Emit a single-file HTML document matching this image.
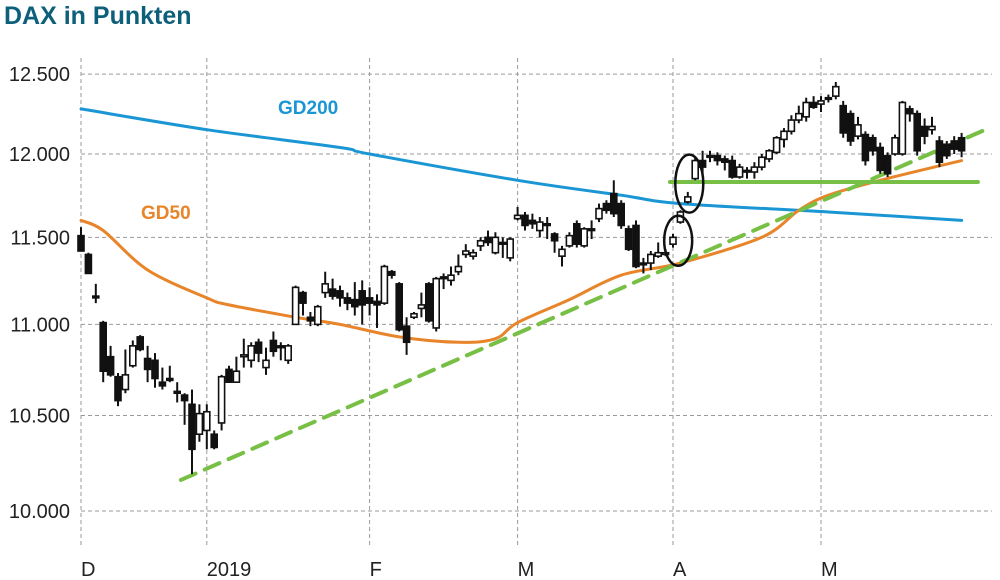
<!DOCTYPE html>
<html><head><meta charset="utf-8"><style>
html,body{margin:0;padding:0;background:#fff;}
svg{display:block;font-family:"Liberation Sans",sans-serif;}
</style></head><body>
<svg id="chart" width="1000" height="580" viewBox="0 0 1000 580">
<text x="4" y="24" font-size="25" font-weight="bold" fill="#0d5f7a">DAX in Punkten</text>
<g id="grid"></g>
<g id="yaxis"></g>
<g id="xaxis"></g>
<g id="lines"></g>
<g id="candles"></g>
<g id="annot"></g>
<text x="278" y="114" font-size="19" font-weight="bold" fill="#1a96d4">GD200</text>
<text x="141" y="219" font-size="19" font-weight="bold" fill="#e8852a">GD50</text>
</svg>
<script>
const yTicks = [10000, 10500, 11000, 11500, 12000, 12500];
const yTickLabels = ["10.000", "10.500", "11.000", "11.500", "12.000", "12.500"];
const xTickDays = [0, 17, 39, 59, 80, 100];
const xTickLabels = ["D", "2019", "F", "M", "A", "M"];
const opens = [11510,11400,11160,11010,10820,10710,10640,10770,10930,10810,10800,10680,10700,10630,10610,10560,10400,10420,10400,10460,10750,10680,10820,10800,10900,10760,10910,10880,10800,11000,11180,11040,11000,11180,11200,11190,11150,11140,11190,11150,11130,11120,11300,11230,10990,11040,11090,11230,10980,11270,11250,11300,11400,11390,11450,11500,11410,11470,11380,11610,11630,11600,11540,11580,11520,11390,11450,11580,11450,11550,11610,11700,11760,11700,11550,11570,11350,11350,11390,11400,11460,11590,11710,11850,11960,11980,11990,11970,11960,11860,11900,11890,11920,11970,12010,12090,12140,12210,12230,12320,12310,12340,12360,12300,12250,12110,12120,12100,12040,11990,12000,12000,12280,12250,12170,12150,12080,12060,12080,12100];
const closes = [11420,11290,11150,10740,10720,10580,10720,10880,10860,10750,10700,10660,10690,10620,10580,10320,10510,10520,10330,10710,10680,10740,10830,10880,10840,10800,10850,10870,10880,11210,11120,11020,11100,11230,11160,11150,11120,11100,11110,11120,11110,11330,11280,10970,10900,11060,11110,11020,11260,11260,11280,11330,11420,11410,11480,11470,11500,11460,11490,11630,11570,11580,11590,11570,11480,11430,11510,11460,11550,11540,11670,11660,11640,11570,11430,11330,11340,11400,11410,11410,11500,11650,11740,11960,11920,11990,11960,11950,11860,11920,11890,11920,11980,12020,12100,12140,12210,12250,12320,12290,12330,12350,12420,12130,12080,12180,11960,12020,11900,11880,12100,12320,12250,12020,12110,12170,11950,11990,12030,12020];
const highs = [11560,11410,11230,11020,10880,10730,10860,10910,10940,10880,10840,10760,10770,10680,10620,10640,10560,10560,10420,10720,10770,10820,10920,10900,10920,10870,10960,10900,10890,11220,11190,11070,11110,11300,11260,11220,11180,11240,11250,11210,11170,11340,11310,11240,11040,11070,11180,11240,11270,11290,11330,11400,11460,11430,11500,11540,11530,11500,11500,11680,11650,11640,11620,11620,11530,11450,11530,11600,11560,11600,11700,11720,11840,11720,11570,11600,11380,11420,11470,11430,11520,11660,11770,11980,12020,12020,12010,11990,11990,11940,11920,11950,12000,12030,12110,12160,12240,12300,12350,12360,12360,12370,12450,12330,12270,12230,12140,12120,12070,12010,12120,12330,12300,12270,12220,12230,12110,12080,12110,12130];
const lows = [11420,11290,11120,10680,10710,10550,10620,10760,10850,10680,10650,10640,10680,10570,10450,10190,10360,10320,10320,10420,10680,10680,10760,10760,10790,10720,10820,10800,10780,11000,11050,10990,10990,11150,11140,11100,11080,11050,11000,11050,10980,11110,11260,10960,10830,11030,11040,11010,10960,11200,11220,11280,11380,11370,11420,11450,11400,11380,11360,11600,11540,11550,11500,11490,11410,11330,11440,11440,11440,11490,11590,11640,11620,11550,11420,11320,11290,11310,11380,11390,11440,11580,11700,11840,11880,11950,11930,11900,11850,11850,11850,11850,11900,11950,12000,12040,12120,12190,12200,12280,12260,12320,12340,12100,12050,12090,11930,11990,11880,11860,11990,11990,12200,11990,12060,12120,11920,11970,12000,11980];
const ma200Days = [0, 17, 35, 39, 59, 73, 81, 101, 119];
const ma200Vals = [12280, 12150, 12040, 12000, 11840, 11750, 11700, 11650, 11600];
const ma50Days = [0, 3, 9, 17, 20, 29, 35, 43, 51, 56, 59, 66, 73, 81, 92, 97, 101, 108, 119];
const ma50Vals = [11600, 11540, 11310, 11150, 11110, 11040, 11000, 10930, 10900, 10920, 11010, 11140, 11280, 11350, 11500, 11660, 11750, 11840, 11960];
const trendDays = [13.5, 122.2];
const trendVals = [10160, 12150];
const supportDays = [79.6, 121.2];
const supportVals = [11830, 11830];
const circleDays = [80.7, 82.2];
const circleVals = [11480, 11820];

const NS = "http://www.w3.org/2000/svg";
function X(d){ return 81 + 7.4 * d; }
function Y(v){ return 511 - 1958 * Math.log(v / 10000); }
function mk(tag, attrs, parent){ const e = document.createElementNS(NS, tag); for (const k in attrs) e.setAttribute(k, attrs[k]); parent.appendChild(e); return e; }

const grid = document.getElementById('grid');
const yaxis = document.getElementById('yaxis');
const xaxis = document.getElementById('xaxis');
yTicks.forEach((v, i) => {
  const l = mk('line', {x1: 81, x2: 992, y1: Y(v), y2: Y(v), stroke: '#9a9a9a', 'stroke-width': 1, 'stroke-dasharray': '4,3'}, grid);
  
  
  const t = mk('text', {x: 70, y: Y(v) + 7, 'text-anchor': 'end', 'font-size': 20, fill: '#222'}, yaxis);
  t.textContent = yTickLabels[i];
  
  
});
xTickDays.forEach((d, i) => {
  const l = mk('line', {x1: X(d), x2: X(d), y1: 58, y2: 545, stroke: '#9a9a9a', 'stroke-width': 1, 'stroke-dasharray': '4,3'}, grid);
  
  
  const t = mk('text', {x: X(d), y: 576, 'font-size': 20, fill: '#222'}, xaxis);
  t.textContent = xTickLabels[i];
  
  
});

const lines = document.getElementById('lines');
function smoothPath(days, vals){
  const p = days.map((d, i) => [X(d), Y(vals[i])]);
  let s = 'M' + p[0][0].toFixed(1) + ',' + p[0][1].toFixed(1);
  for (let i = 0; i < p.length - 1; i++) {
    const p0 = p[Math.max(i - 1, 0)], p1 = p[i], p2 = p[i + 1], p3 = p[Math.min(i + 2, p.length - 1)];
    const c1x = p1[0] + (p2[0] - p0[0]) / 6, c1y = p1[1] + (p2[1] - p0[1]) / 6;
    const c2x = p2[0] - (p3[0] - p1[0]) / 6, c2y = p2[1] - (p3[1] - p1[1]) / 6;
    s += ' C' + c1x.toFixed(1) + ',' + c1y.toFixed(1) + ' ' + c2x.toFixed(1) + ',' + c2y.toFixed(1) + ' ' + p2[0].toFixed(1) + ',' + p2[1].toFixed(1);
  }
  return s;
}
function line(days, vals, color, w, dash, name){
  const p = mk('path', {d: smoothPath(days, vals), fill: 'none', stroke: color, 'stroke-width': w, 'stroke-linejoin': 'round', 'stroke-linecap': 'round'}, lines);
  if (dash) p.setAttribute('stroke-dasharray', dash);
  
  
}
line(ma200Days, ma200Vals, '#1a96d4', 3, null, 'gd200-line');
line(ma50Days, ma50Vals, '#e8852a', 3, null, 'gd50-line');
line(trendDays, trendVals, '#78bf45', 4, '16,10', 'trendline');
line(supportDays, supportVals, '#78bf45', 4, null, 'support-line');

const cg = document.getElementById('candles');
opens.forEach((o, i) => {
  const c = closes[i], x = X(i);
  const g = mk('g', {}, cg);
  
  
  mk('line', {x1: x, x2: x, y1: Y(highs[i]), y2: Y(lows[i]), stroke: '#111', 'stroke-width': 2}, g);
  const top = Y(Math.max(o, c)), bot = Y(Math.min(o, c));
  const h = Math.max(bot - top, 1.5);
  mk('rect', {x: x - 3, y: top, width: 6, height: h, fill: c < o ? '#111' : '#fff', stroke: '#111', 'stroke-width': 1.6}, g);
});

const an = document.getElementById('annot');
circleDays.forEach((d, i) => {
  const e = mk('ellipse', {cx: X(d), cy: Y(circleVals[i]), rx: 14, ry: i === 0 ? 25 : 29, fill: 'none', stroke: '#111', 'stroke-width': 2.5}, an);
  
  
});
</script>
</body></html>
